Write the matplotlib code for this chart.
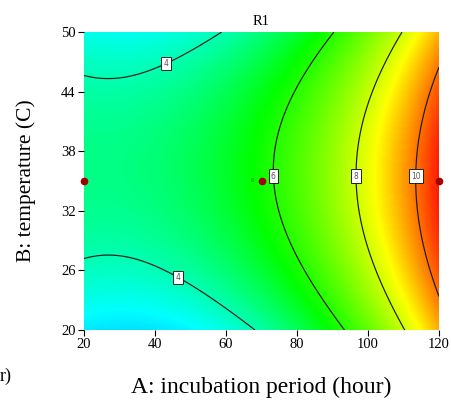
import numpy as np
import matplotlib
matplotlib.use("Agg")
import matplotlib.pyplot as plt
from matplotlib.colors import LinearSegmentedColormap

# points read along the contour lines of the reference (A hours, B deg C)
c4_top_A = [20, 30.6, 43.7, 52.7, 63.0]
c4_top_B = [45.3, 44.7, 46.4, 47.85, 50]
c4_bot_A = [20, 26.4, 48.2, 60.2, 69.9]
c4_bot_B = [28.4, 28.7, 26.4, 23.7, 20]
c6_A = [90.7, 80.8, 75, 73.3, 75, 83.7, 93.0]
c6_B = [50, 47.2, 39.8, 35.4, 31.7, 25, 20]
c8_A = [109.8, 101.5, 96.6, 101.3, 110.0]
c8_B = [50, 44, 35.4, 26.4, 20]
c10_A = [120, 114.8, 113.7, 114.8, 120]
c10_B = [46.0, 39.8, 35.4, 29.9, 23.9]
# a few values judged from the colour shading
extra_A = [20, 20, 20, 120, 48, 40, 40, 120, 120]
extra_B = [20, 50, 35, 35, 30, 50, 20, 50, 20]
extra_R = [3.0, 3.5, 4.6, 11.0, 4.8, 3.7, 3.4, 9.4, 9.4]

# design points
pts_A = [20, 70, 120]
pts_B = [35, 35, 35]

levels = [4, 6, 8, 10]

A_all = np.array(c4_top_A + c4_bot_A + c6_A + c8_A + c10_A + extra_A, float)
B_all = np.array(c4_top_B + c4_bot_B + c6_B + c8_B + c10_B + extra_B, float)
R_all = np.array([4] * 10 + [6] * len(c6_A) + [8] * len(c8_A) + [10] * len(c10_A) + extra_R, float)


def basis(A, B):
    a = (np.asarray(A) - 70) / 50.0
    b = (np.asarray(B) - 35) / 15.0
    cols = [a ** i * b ** j for i in range(3) for j in range(3)] + [a ** 3]
    return np.stack(cols, axis=-1)


coef, *_ = np.linalg.lstsq(basis(A_all, B_all), R_all, rcond=None)

gA, gB = np.meshgrid(np.linspace(20, 120, 300), np.linspace(20, 50, 300))
gR = basis(gA, gB) @ coef

vmin, vmax = 0.5, 11.2
nodes = [(0.5, "#0000ff"), (3.3, "#00ffff"), (5.6, "#00ff00"), (8.6, "#ffff00"), (11.2, "#ff0000")]
cmap = LinearSegmentedColormap.from_list(
    "de", [((v - vmin) / (vmax - vmin), c) for v, c in nodes])

plt.rcParams["font.family"] = "Liberation Serif"

fig = plt.figure(figsize=(4.52, 4.01), dpi=100)
ax = fig.add_axes([84 / 452, 1 - 330 / 401, 355 / 452, 298 / 401])

ax.imshow(gR, extent=(20, 120, 20, 50), origin="lower", aspect="auto",
          cmap=cmap, vmin=vmin, vmax=vmax, interpolation="bilinear")
cs = ax.contour(gA, gB, gR, levels=levels, colors="#1a1a1a", linewidths=0.85)
lbls = ax.clabel(cs, fmt="%d", fontsize=5.5, inline=False,
                 manual=[(43.7, 46.4), (48.2, 26.4), (73.5, 35.5), (96.6, 35.5), (113.8, 35.5)])
for t in lbls:
    t.set_rotation(0)
    t.set_family("DejaVu Sans")
    t.set_color("#555555")
    t.set_bbox(dict(boxstyle="square,pad=0.3", fc="white", ec="#222222", lw=0.7))

ax.plot(pts_A, pts_B, "o", color="#a00000", ms=4.5, clip_on=False, zorder=5)
ax.text(67.8, 35, "6", fontsize=4, color="#007700", ha="right", va="center",
        family="DejaVu Sans")

ax.set_xlim(20, 120)
ax.set_ylim(20, 50)
ax.set_xticks([20, 40, 60, 80, 100, 120])
ax.set_yticks([20, 26, 32, 38, 44, 50])
ax.tick_params(labelsize=10.5, length=4, width=0.8, pad=2)
for s in ax.spines.values():
    s.set_visible(False)

ax.set_title("R1", fontsize=10.5, pad=5)
ax.set_xlabel("A: incubation period (hour)", fontsize=17, labelpad=18)
ax.set_ylabel("B: temperature (C)", fontsize=15.5, labelpad=18)
fig.text(0.0, 0.062, "r)", fontsize=13, va="center", ha="left")

fig.savefig("out.png", dpi=100)
